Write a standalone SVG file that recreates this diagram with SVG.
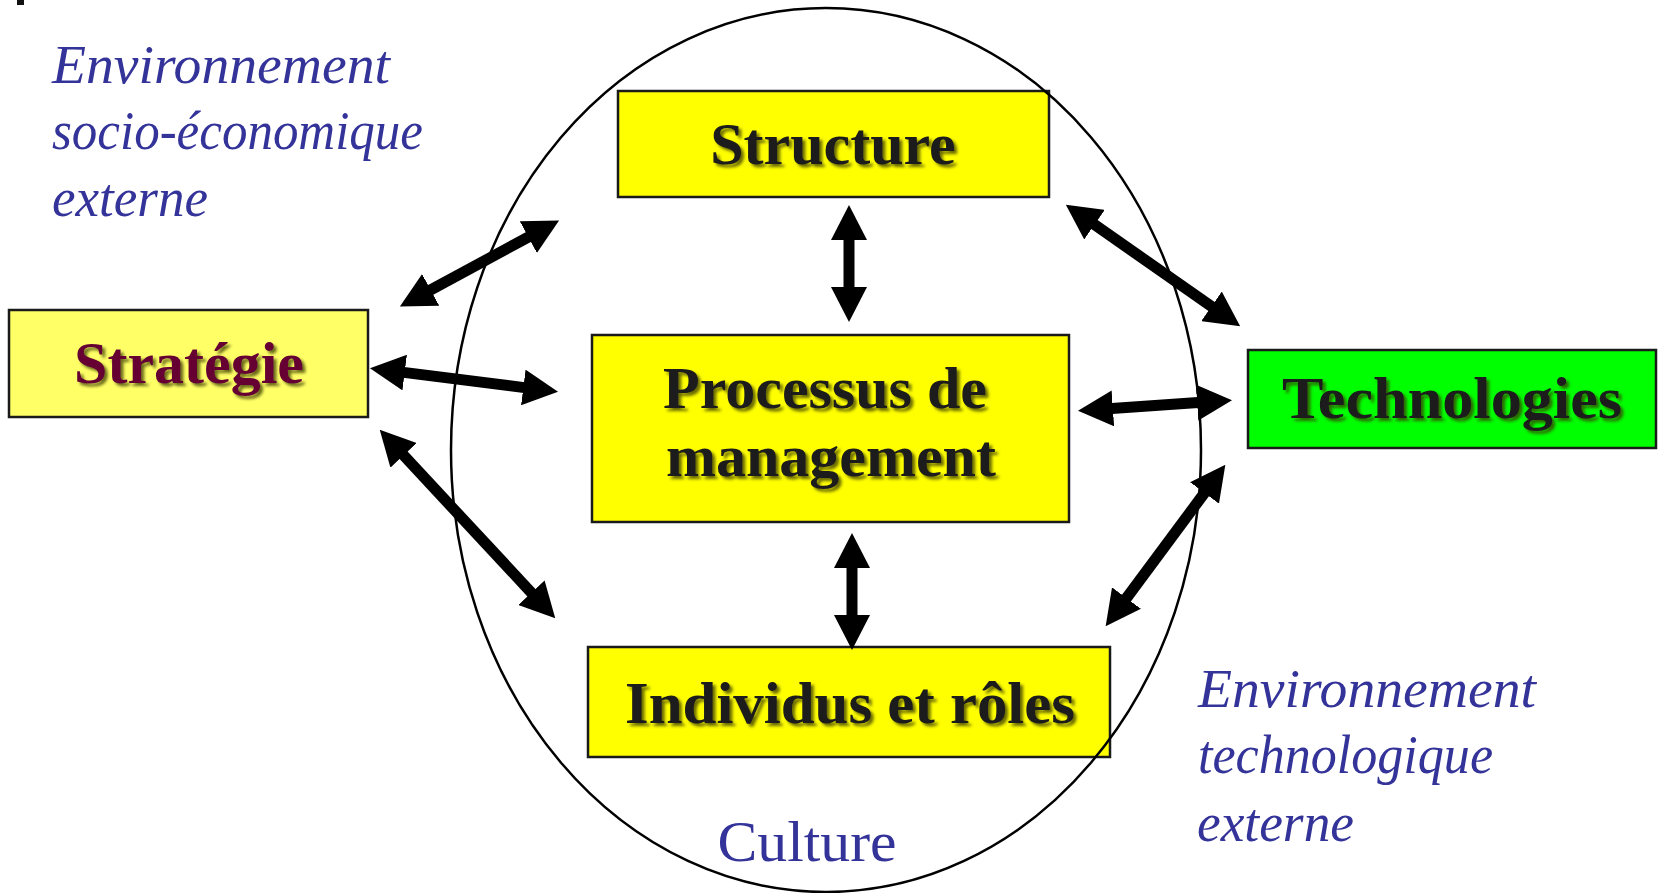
<svg xmlns="http://www.w3.org/2000/svg" width="1660" height="893" viewBox="0 0 1660 893">
  <style>
    .box { stroke: #1a1a1a; stroke-width: 2.5; }
    .yel { fill: #ffff00; }
    .lbl { font-family: "Liberation Serif", "Times New Roman", serif; font-weight: bold; font-size: 60px; fill: #1a1a1a; text-anchor: middle; filter: url(#sh); }
    .env { font-family: "Liberation Serif", "Times New Roman", serif; font-style: italic; font-size: 55px; fill: #333399; }
    .arr { fill: none; stroke: #000; stroke-width: 11; marker-start: url(#ah); marker-end: url(#ah); }
  </style>
  <defs>
    <filter id="sh" x="-10%" y="-20%" width="120%" height="150%">
      <feDropShadow dx="3" dy="3" stdDeviation="1.5" flood-color="#3a3a00" flood-opacity="0.75"/>
    </filter>
    <marker id="ah" viewBox="0 0 35 36" refX="1" refY="18" markerWidth="35" markerHeight="36" markerUnits="userSpaceOnUse" orient="auto-start-reverse">
      <path d="M0,0 L35,18 L0,36 z" fill="#000"/>
    </marker>
  </defs>
  <rect width="1660" height="893" fill="#ffffff"/>
  <rect x="17" y="0" width="7" height="5" fill="#111"/>

  <g id="env-socio">
    <text class="env" x="52" y="83" textLength="338" lengthAdjust="spacingAndGlyphs">Environnement</text>
    <text class="env" x="52" y="149" textLength="371" lengthAdjust="spacingAndGlyphs">socio-économique</text>
    <text class="env" x="52" y="216" textLength="156" lengthAdjust="spacingAndGlyphs">externe</text>
  </g>
  <g id="env-techno">
    <text class="env" x="1198" y="707" textLength="338" lengthAdjust="spacingAndGlyphs">Environnement</text>
    <text class="env" x="1198" y="773" textLength="295" lengthAdjust="spacingAndGlyphs">technologique</text>
    <text class="env" x="1197" y="841" textLength="157" lengthAdjust="spacingAndGlyphs">externe</text>
  </g>

  <g id="strategie">
    <rect class="box" x="9" y="310" width="359" height="107" fill="#ffff66"/>
    <text class="lbl" x="189" y="383" style="fill:#660033">Stratégie</text>
  </g>
  <g id="structure">
    <rect class="box yel" x="618" y="91" width="431" height="106"/>
    <text class="lbl" x="833" y="164">Structure</text>
  </g>
  <g id="processus">
    <rect class="box yel" x="592" y="335" width="477" height="187"/>
    <text class="lbl" x="825" y="408">Processus de</text>
    <text class="lbl" x="831" y="476">management</text>
  </g>
  <g id="individus">
    <rect class="box yel" x="588" y="647" width="522" height="110"/>
    <text class="lbl" x="850" y="723" textLength="450" lengthAdjust="spacingAndGlyphs">Individus et rôles</text>
  </g>
  <g id="technologies">
    <rect class="box" x="1248" y="350" width="408" height="98" fill="#00ff00"/>
    <text class="lbl" x="1452" y="418" textLength="340" lengthAdjust="spacingAndGlyphs">Technologies</text>
  </g>

  <g id="culture">
    <ellipse cx="826" cy="450" rx="375" ry="442" fill="none" stroke="#000" stroke-width="2.5"/>
    <text x="807" y="861" textLength="179" lengthAdjust="spacingAndGlyphs" style="font-family:'Liberation Serif','Times New Roman',serif;font-size:58px;fill:#333399;text-anchor:middle">Culture</text>
  </g>

  <g id="connectors">
    <path class="arr" d="M429.8,290.4 L529.2,236.6"/>
    <path class="arr" d="M403.7,372.4 L524.3,387.6"/>
    <path class="arr" d="M402.9,454.6 L532.1,593.4"/>
    <path class="arr" d="M849,239 L849,288"/>
    <path class="arr" d="M852,567 L852,616"/>
    <path class="arr" d="M1093.7,224.1 L1212.3,306.9"/>
    <path class="arr" d="M1111.9,408.5 L1198.1,402.5"/>
    <path class="arr" d="M1205.1,492.1 L1125.9,598.9"/>
  </g>
</svg>
